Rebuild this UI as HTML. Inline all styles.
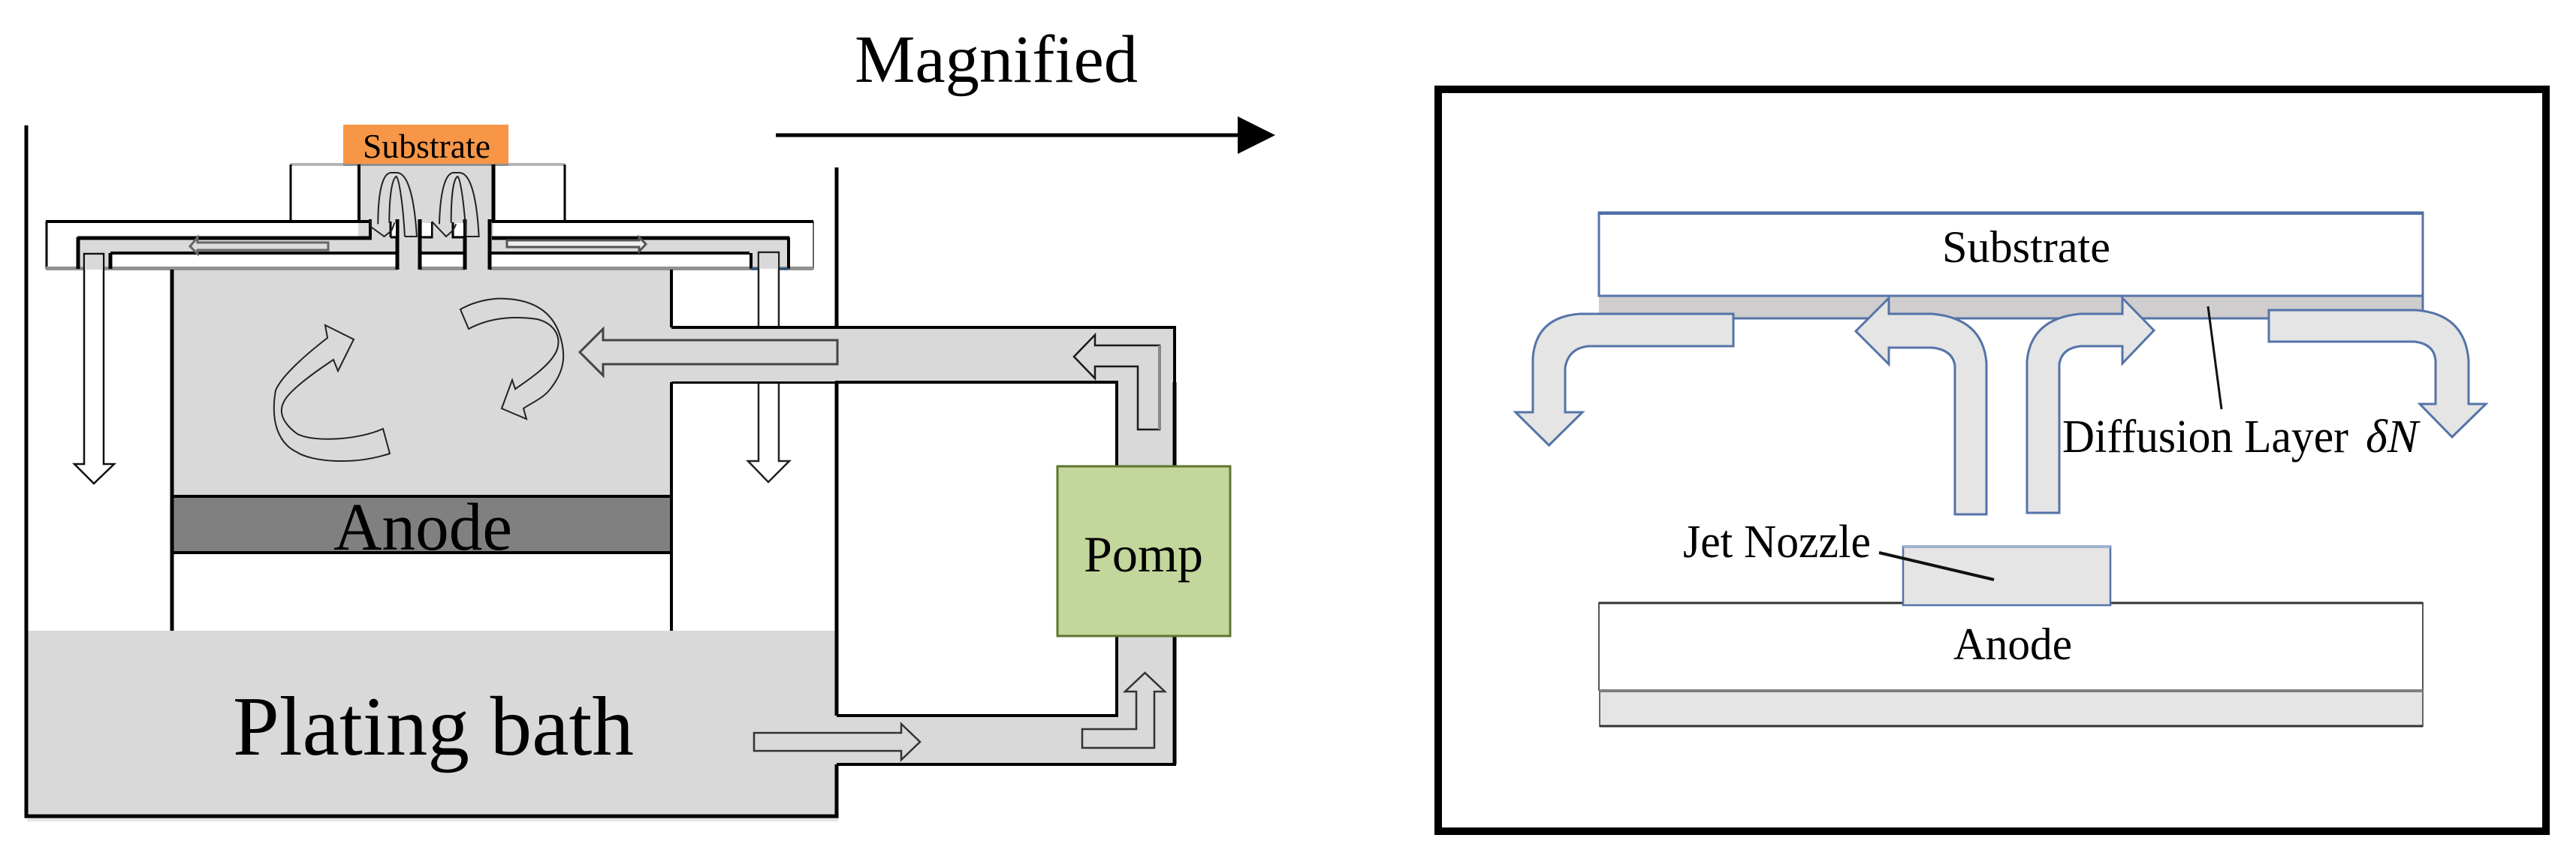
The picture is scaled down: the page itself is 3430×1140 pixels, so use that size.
<!DOCTYPE html>
<html>
<head>
<meta charset="utf-8">
<style>
html,body{margin:0;padding:0;background:#fff;width:3430px;height:1140px;overflow:hidden}
svg{display:block}
text{font-family:"Liberation Serif",serif;fill:#000}
</style>
</head>
<body>
<svg width="3430" height="1140" viewBox="0 0 3430 1140" xmlns="http://www.w3.org/2000/svg">
<rect width="3430" height="1140" fill="#fff"/>

<!-- soft shadow -->
<rect x="36" y="1088" width="1080" height="6" fill="#e6e6e6"/>

<!-- gray fluid -->
<g fill="#d9d9d9">
<rect x="229" y="359" width="665" height="302"/>
<polygon points="894,436 1564,436 1564,1018 1114,1018 1114,953 1487,953 1487,509 894,509"/>
<rect x="35" y="840" width="1079" height="247"/>
<rect x="477" y="218" width="180" height="100"/>
<rect x="103" y="316" width="948" height="22"/>
<rect x="103" y="336" width="44" height="23"/>
<rect x="998" y="336" width="53" height="23"/>
<rect x="529" y="316" width="30" height="45"/>
<rect x="619" y="316" width="33" height="45"/>
</g>
<rect x="229" y="661" width="665" height="75" fill="#808080"/>

<!-- holder and manifold lines -->
<rect x="387" y="217" width="70" height="4" fill="#b5b5b5"/>
<rect x="677" y="217" width="75" height="4" fill="#b5b5b5"/>
<rect x="457" y="218" width="220" height="3" fill="#8f8f8f"/>
<g stroke="#000" fill="none">
<path d="M387 219V295M752 219V295" stroke-width="3"/>
<path d="M478 219V295" stroke-width="4"/>
<path d="M657 219V295" stroke-width="5"/>
<path d="M62 295V358" stroke-width="3"/>
<path d="M1083 295V358" stroke="#666" stroke-width="2"/>
<path d="M61 295H493M655 295H1083" stroke-width="4"/>
</g>
<!-- manifold band -->
<g fill="#919191">
<rect x="61" y="355" width="468" height="5"/>
<rect x="559" y="355" width="60" height="5"/>
<rect x="652" y="355" width="431" height="5"/>
</g>

<!-- channel lines -->
<g stroke="#000" fill="none">
<path d="M103 317H495M655 317H1051" stroke-width="5"/>
<path d="M147 337H529M559 337H619M652 337H998" stroke-width="4"/>
<path d="M104 316V358M147 337V358" stroke-width="5"/>
<path d="M1000 337V358M1050 316V358" stroke-width="4"/>
<path d="M493 292V318" stroke-width="4"/>
<path d="M529 292V359M559 292V359M619 292V359M652 292V359" stroke-width="5"/>
<path d="M520 295V316M520 316H529" stroke-width="3"/>
<path d="M559 316H575V296" stroke-width="3"/>
<path d="M603 296V316H619" stroke-width="3"/>
</g>
<rect x="522" y="297" width="5" height="17" fill="#fff"/>
<rect x="562" y="297" width="12" height="17" fill="#fff"/>
<rect x="605" y="297" width="12" height="17" fill="#fff"/>
<path d="M1000 358H1050" stroke="#26527f" stroke-width="3"/>

<!-- top loops -->
<g transform="translate(340 150) scale(.3333)" fill="none" stroke="#222" stroke-width="6">
<path d="M597 495H645C635 340 610 240 565 240H540C505 245 490 330 490 445"/>
<path d="M597 495C590 370 575 265 563 255C545 265 535 340 535 440"/>
<path d="M460 430V455L515 495L545 470L556 440"/>
<path d="M842 495H893C885 340 860 240 815 240H790C755 245 738 330 735 445"/>
<path d="M842 495C835 370 820 265 808 255C790 265 782 340 782 440"/>
<path d="M705 435L762 495L790 470L802 445"/>
</g>

<!-- channel arrows -->
<polygon points="253,328 263,316 263,323 437,323 437,333 263,333 263,338" fill="#dcdcdc" stroke="#666" stroke-width="3"/>
<polygon points="860,325 851,316 851,320 675,320 675,329 851,329 851,335" fill="#efefef" stroke="#555" stroke-width="3"/>

<!-- drain arrows -->
<path d="M112 338H138V618H152L125 644L99 618H112Z" fill="#fff" stroke="#111" stroke-width="2.5"/>
<path d="M113 340H137V359H113Z" fill="#d9d9d9"/>
<path d="M1010 336H1037V614H1051L1023 642L996 614H1010Z" fill="#fff" stroke="#222" stroke-width="2.5"/>
<path d="M1011 338H1036V358H1011Z" fill="#d9d9d9"/>
<rect x="1006" y="438" width="36" height="70" fill="#d9d9d9"/>

<!-- black structure -->
<g stroke="#000" fill="none">
<path d="M35 167V1087H1114V1018" stroke-width="5"/>
<path d="M1114 223V436M1114 509V953" stroke-width="5"/>
<path d="M229 359V840" stroke-width="5"/>
<path d="M894 359V436M894 509V840" stroke-width="4"/>
<path d="M229 661H894M229 736H894" stroke-width="4"/>
<path d="M894 436H1564V1018H1114" stroke-width="4"/>
<path d="M1564 509V1018" stroke-width="5"/>
<path d="M894 509H1487V953H1114" stroke-width="4"/>
</g>
<rect x="894" y="438" width="218" height="70" fill="#d9d9d9"/>
<rect x="1116" y="955" width="2" height="61" fill="#d9d9d9"/>

<!-- swirl arrows -->
<g fill="none" stroke="#222" stroke-width="2">
<path d="M436 450C410 470 375 500 367 520C360 560 370 590 395 602C415 615 470 620 519 604L510 571C480 585 420 590 396 578C378 565 370 550 378 535C385 520 420 495 444 479L450 494L471 452L433 433Z"/>
<path d="M613 412C630 402 655 396 675 398C710 400 735 415 745 445C755 475 750 495 735 515C725 530 710 535 697 544L701 558L668 544L682 506L686 518C705 505 735 485 742 465C748 445 735 430 715 425C680 420 650 424 624 438Z"/>
</g>

<!-- pipe arrows -->
<polygon points="772,469 803,438 803,453 1115,453 1115,485 803,485 803,500" fill="#d9d9d9" stroke="#444" stroke-width="3"/>
<polygon points="1430,475 1458,446 1458,460 1544,460 1544,572 1515,572 1515,488 1458,488 1458,504" fill="#d9d9d9" stroke="#1a1a1a" stroke-width="2.5"/>
<path d="M1544 460V572" stroke="#888" stroke-width="4" fill="none"/>
<polygon points="1441,971 1513,971 1513,921 1498,921 1524.5,896 1551,921 1537,921 1537,996 1441,996" fill="#d9d9d9" stroke="#333" stroke-width="2.5"/>
<polygon points="1004,976 1200,976 1200,964 1225,988 1200,1012 1200,1000 1004,1000" fill="#d9d9d9" stroke="#333" stroke-width="2.5"/>

<!-- substrate and pump -->
<rect x="457" y="166" width="220" height="52" fill="#f79646"/>
<rect x="1408" y="621" width="230" height="226" fill="#c3d69b" stroke="#5f7530" stroke-width="3"/>

<!-- left labels -->
<text x="483" y="210" font-size="46" textLength="170" lengthAdjust="spacingAndGlyphs">Substrate</text>
<text x="444" y="732" font-size="90" textLength="238" lengthAdjust="spacingAndGlyphs">Anode</text>
<text x="310" y="1005" font-size="112" textLength="534" lengthAdjust="spacingAndGlyphs">Plating bath</text>
<text x="1443" y="761" font-size="68" textLength="159" lengthAdjust="spacingAndGlyphs">Pomp</text>
<text x="1138" y="109" font-size="90" textLength="377" lengthAdjust="spacingAndGlyphs">Magnified</text>

<!-- magnified arrow -->
<path d="M1033 180H1650" stroke="#000" stroke-width="5"/>
<polygon points="1648,155 1698,180 1648,205" fill="#000"/>

<!-- right frame -->
<rect x="1915" y="119" width="1475" height="988" fill="none" stroke="#000" stroke-width="10"/>

<!-- right: substrate -->
<rect x="2129" y="394" width="1097" height="30" fill="#cfcdcd"/>
<path d="M2129 424H3226" stroke="#5573a8" stroke-width="3"/>
<rect x="2129" y="283" width="1097" height="111" fill="#fff" stroke="#5573a8" stroke-width="3"/>
<path d="M2129 284H3226" stroke="#4f6fa5" stroke-width="4"/>
<path d="M3226 394V413" stroke="#5573a8" stroke-width="3"/>

<!-- right: flow arrows -->
<g fill="#e5e5e5" stroke="#5573a8" stroke-width="3" stroke-linejoin="miter">
<path d="M2308 418H2104Q2045 422 2041 477V549H2018L2062.5 593L2107 549H2084V490Q2088 464 2115 461H2308Z"/>
<path d="M2471 441L2515 397V418H2573Q2640 424 2645 483V685H2603V487Q2600 466 2573 463H2515V485Z"/>
<path d="M2868 440L2826 397V418H2770Q2705 424 2699 480V683H2742V485Q2745 464 2770 461H2826V484Z"/>
<path d="M3021 413H3217Q3282 418 3287 480V538H3310L3265 582L3222 538H3243V480Q3241 458 3215 455H3021Z"/>
</g>

<!-- leader lines -->
<path d="M2940 408L2958 545" stroke="#111" stroke-width="3"/>

<!-- right: nozzle and anode -->
<rect x="2129" y="803" width="1097" height="116" fill="#fff" stroke="#555" stroke-width="2"/>
<path d="M2129 803H3226" stroke="#333" stroke-width="3"/>
<rect x="2130" y="919" width="1096" height="48" fill="#e5e5e5" stroke="#666" stroke-width="2"/>
<path d="M2130 920H3226" stroke="#7f7f7f" stroke-width="4"/>
<path d="M2130 967H3226" stroke="#333" stroke-width="3"/>
<rect x="2534" y="728" width="276" height="78" fill="#e5e5e5" stroke="#5573a8" stroke-width="2.5"/>
<path d="M2534 728H2810" stroke="#a0b2cf" stroke-width="4"/>
<path d="M2502 736L2655 772" stroke="#111" stroke-width="4"/>

<!-- right labels -->
<text x="2586" y="349" font-size="60" textLength="224" lengthAdjust="spacingAndGlyphs">Substrate</text>
<text x="2746" y="602" font-size="62" textLength="381" lengthAdjust="spacingAndGlyphs">Diffusion Layer</text>
<text x="3150" y="602" font-size="62" font-style="italic" textLength="70" lengthAdjust="spacingAndGlyphs">δN</text>
<text x="2241" y="742" font-size="62" textLength="250" lengthAdjust="spacingAndGlyphs">Jet Nozzle</text>
<text x="2601" y="878" font-size="60" textLength="158" lengthAdjust="spacingAndGlyphs">Anode</text>
</svg>
</body>
</html>
